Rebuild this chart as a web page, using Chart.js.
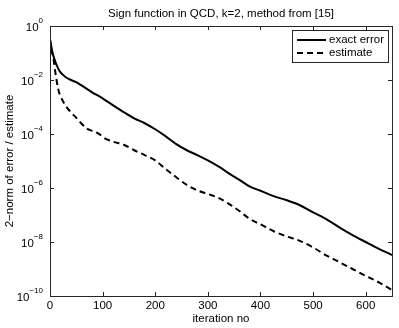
<!DOCTYPE html>
<html>
<head>
<meta charset="utf-8">
<script src="https://cdn.jsdelivr.net/npm/chart.js@4/dist/chart.umd.min.js"></script>
<style>
  html, body { margin: 0; padding: 0; background: #fff; }
  #wrap { width: 399px; height: 328px; }
</style>
</head>
<body>
<div id="wrap"><canvas id="qcdChart" width="399" height="328"></canvas></div>
<script>
// values
const exactIter = [0, 5, 10, 15, 20, 30, 40, 50, 60, 70, 80, 100, 120, 140, 160, 180, 200, 220, 240, 260, 280, 300,
  320, 340, 360, 380, 400, 425, 450, 475, 500, 525, 550, 575, 600, 625, 650];
const exactErr = [3.2e-1, 1e-1, 4.8e-2, 2.8e-2, 1.9e-2, 1.26e-2, 1.0e-2, 8.3e-3, 6.3e-3, 4.7e-3, 3.5e-3, 2.1e-3, 1.15e-3,
  6.5e-4, 3.8e-4, 2.5e-4, 1.5e-4, 8.2e-5, 4.2e-5, 2.5e-5, 1.66e-5, 1.05e-5, 6.3e-6, 3.5e-6, 2.0e-6, 1.12e-6, 7.9e-7,
  5.0e-7, 3.5e-7, 2.3e-7, 1.26e-7, 7.1e-8, 3.5e-8, 1.8e-8, 1.0e-8, 5.6e-9, 3.3e-9];

const estIter = [0, 3, 7, 10, 16, 20, 30, 40, 50, 60, 70, 80, 90, 105, 120, 140, 160, 180, 200, 220, 240, 260, 280, 300,
  320, 340, 360, 380, 400, 425, 450, 475, 500, 525, 550, 575, 600, 625, 650];
const estimate = [3.2e-1, 1.26e-1, 5.5e-2, 2.0e-2, 4.3e-3, 2.5e-3, 1.1e-3, 6.3e-4, 4.0e-4, 2.4e-4, 1.6e-4, 1.3e-4, 1.1e-4,
  6.8e-5, 5.2e-5, 4.0e-5, 2.5e-5, 1.66e-5, 1.05e-5, 5.0e-6, 2.5e-6, 1.3e-6, 8.2e-7, 6.0e-7, 4.3e-7, 2.6e-7, 1.4e-7,
  7.1e-8, 4.5e-8, 2.5e-8, 1.6e-8, 1.1e-8, 6.3e-9, 3.2e-9, 1.8e-9, 1.0e-9, 5.6e-10, 3.2e-10, 1.66e-10];

const xTicks = [0, 100, 200, 300, 400, 500, 600];
const yExponents = [0, -2, -4, -6, -8, -10];

const titleText = 'Sign function in QCD, k=2, method from [15]';
const xTitle = 'iteration no';
const yTitle = '2\u2212norm of error / estimate';

const FONT = '"Liberation Sans", Arial, Helvetica, sans-serif';

// matlab-ish axes box, ticks, labels and legend
const matlabAxes = {
  id: 'matlabAxes',
  afterDraw(chart) {
    const { ctx, chartArea: a, scales } = chart;
    const xs = scales.x, ys = scales.y;
    ctx.save();
    ctx.strokeStyle = '#262626';
    ctx.lineWidth = 1;
    ctx.strokeRect(a.left + 0.5, a.top + 0.5, a.right - a.left, a.bottom - a.top);

    ctx.beginPath();
    xTicks.forEach(v => {
      const px = Math.round(xs.getPixelForValue(v)) + 0.5;
      ctx.moveTo(px, a.bottom); ctx.lineTo(px, a.bottom - 4);
      ctx.moveTo(px, a.top); ctx.lineTo(px, a.top + 4);
    });
    yExponents.forEach(e => {
      const py = Math.round(ys.getPixelForValue(Math.pow(10, e))) + 0.5;
      ctx.moveTo(a.left, py); ctx.lineTo(a.left + 4, py);
      ctx.moveTo(a.right, py); ctx.lineTo(a.right - 4, py);
    });
    ctx.stroke();

    ctx.fillStyle = '#000';
    ctx.font = '11.5px ' + FONT;
    ctx.textBaseline = 'top';
    ctx.textAlign = 'center';
    xTicks.forEach(v => ctx.fillText(String(v), xs.getPixelForValue(v), a.bottom + 4));

    yExponents.forEach(e => {
      const py = ys.getPixelForValue(Math.pow(10, e));
      const sup = e === 0 ? '0' : '\u2212' + Math.abs(e);
      ctx.font = '8px ' + FONT;
      const sw = ctx.measureText(sup).width;
      ctx.textAlign = 'right';
      ctx.textBaseline = 'alphabetic';
      ctx.fillText(sup, a.left - 7, py - 3);
      ctx.font = '11.5px ' + FONT;
      ctx.fillText('10', a.left - 7 - sw, py + 5);
    });

    ctx.textAlign = 'center';
    ctx.textBaseline = 'middle';
    ctx.font = '11.5px ' + FONT;
    ctx.fillText(titleText, (a.left + a.right) / 2, 14);
    ctx.fillText(xTitle, (a.left + a.right) / 2, 319);
    ctx.save();
    ctx.translate(10, (a.top + a.bottom) / 2);
    ctx.rotate(-Math.PI / 2);
    ctx.fillText(yTitle, 0, 0);
    ctx.restore();

    // legend box
    const lx = 292, ly = 30, lw = 96, lh = 32;
    ctx.fillStyle = '#fff';
    ctx.fillRect(lx, ly, lw, lh);
    ctx.strokeStyle = '#262626';
    ctx.lineWidth = 1;
    ctx.strokeRect(lx + 0.5, ly + 0.5, lw, lh);
    chart.data.datasets.forEach((ds, i) => {
      const ry = ly + 10 + i * 13;
      ctx.strokeStyle = '#000';
      ctx.lineWidth = 2;
      ctx.setLineDash(ds.borderDash || []);
      ctx.beginPath();
      ctx.moveTo(lx + 5, ry); ctx.lineTo(lx + 34, ry);
      ctx.stroke();
      ctx.setLineDash([]);
      ctx.fillStyle = '#000';
      ctx.textAlign = 'left';
      ctx.fillText(ds.label, lx + 37, ry);
    });
    ctx.restore();
  }
};

const chart = new Chart(document.getElementById('qcdChart'), {
  type: 'line',
  data: {
    datasets: [
      {
        label: 'exact error',
        data: exactIter.map((x, i) => ({ x: x, y: exactErr[i] })),
        borderColor: '#000',
        borderWidth: 2,
        pointRadius: 0,
        cubicInterpolationMode: 'monotone'
      },
      {
        label: 'estimate',
        data: estIter.map((x, i) => ({ x: x, y: estimate[i] })),
        borderColor: '#000',
        borderWidth: 2,
        borderDash: [6, 4],
        pointRadius: 0,
        cubicInterpolationMode: 'monotone'
      }
    ]
  },
  options: {
    responsive: false,
    animation: false,
    layout: { padding: { left: 50, top: 26, right: 7, bottom: 32 } },
    plugins: { legend: { display: false }, tooltip: { enabled: false } },
    scales: {
      x: { type: 'linear', min: 0, max: 650, display: false },
      y: { type: 'logarithmic', min: 1e-10, max: 1, display: false }
    }
  },
  plugins: [matlabAxes]
});
</script>
</body>
</html>
